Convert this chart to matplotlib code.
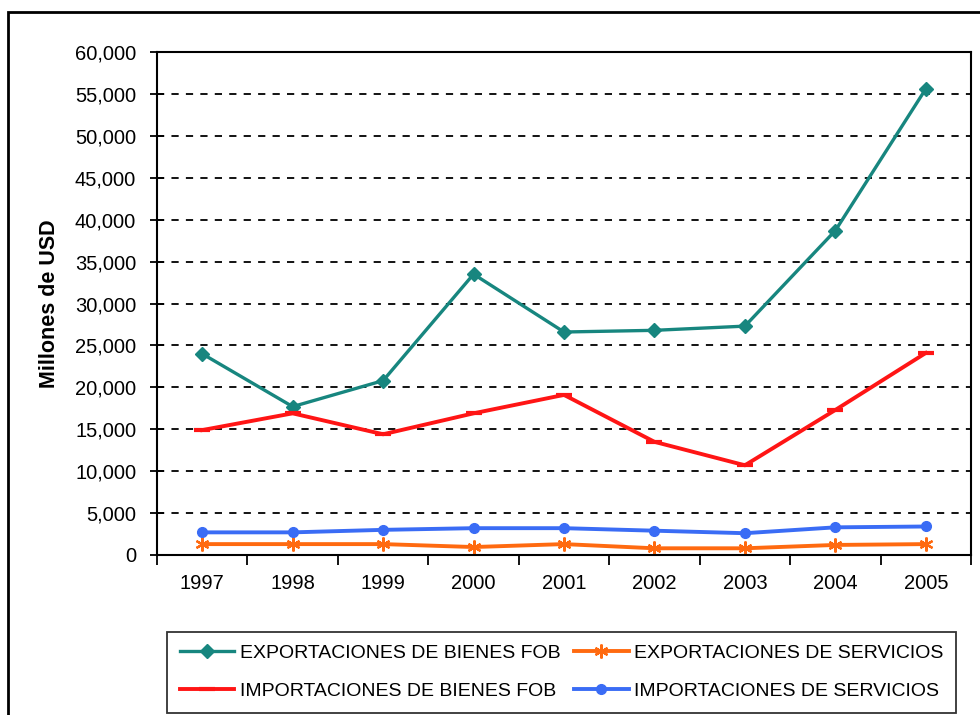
import numpy as np
import matplotlib
matplotlib.use('Agg')
import matplotlib.pyplot as plt
from matplotlib.patches import Rectangle
from matplotlib.ticker import FuncFormatter, FixedLocator

plt.rcParams['font.family'] = ['Liberation Sans', 'DejaVu Sans']

# Datos (millones de USD)
years = ['1997', '1998', '1999', '2000', '2001', '2002', '2003', '2004', '2005']
exp_bienes = [24000, 17700, 20800, 33500, 26600, 26800, 27300, 38700, 55600]
imp_bienes = [14900, 16900, 14400, 16900, 19100, 13500, 10700, 17300, 24100]
exp_serv = [1300, 1300, 1300, 950, 1300, 800, 800, 1200, 1300]
imp_serv = [2700, 2700, 3000, 3200, 3200, 2900, 2600, 3300, 3400]

fig = plt.figure(figsize=(9.8, 7.15), dpi=100)
# marco exterior
fig.patches.append(Rectangle((8/980, -0.1), 1.2, 1 - 12/715 + 0.1, transform=fig.transFigure,
                             fill=False, edgecolor='black', linewidth=2))

ax = fig.add_axes([157/980, 1 - 555/715, 814/980, 503/715])
x = np.arange(len(years))

ax.plot(x, exp_bienes, color='#17867f', lw=2.4, marker='D', ms=7, label='EXPORTACIONES DE BIENES FOB')
ax.plot(x, exp_serv, color='#ff6a10', lw=2.8, marker=(6, 2, 0), ms=10, mew=1.6, label='EXPORTACIONES DE SERVICIOS')
ax.plot(x, imp_bienes, color='#ff1515', lw=2.8, marker='_', ms=12, mew=3, label='IMPORTACIONES DE BIENES FOB')
ax.plot(x, imp_serv, color='#3a6cf5', lw=2.8, marker='o', ms=7, label='IMPORTACIONES DE SERVICIOS')

ax.set_xlim(-0.5, len(years) - 0.5)
ax.set_ylim(0, 60000)
ax.set_yticks(np.arange(0, 60001, 5000))
ax.yaxis.set_major_formatter(FuncFormatter(lambda v, p: f'{int(v):,}'))
ax.set_xticks(x)
ax.set_xticklabels(years)
ax.xaxis.set_minor_locator(FixedLocator(np.arange(-0.5, len(years), 1)))
ax.tick_params(axis='x', which='major', length=0, pad=14, labelsize=14.5)
ax.tick_params(axis='x', which='minor', length=7, direction='out', width=1.3)
ax.tick_params(axis='y', length=10, direction='inout', width=1.3, labelsize=14.5, pad=10)
ax.yaxis.grid(True, linestyle=(0, (4, 4)), color='black', lw=1.3)
ax.set_axisbelow(True)
for s in ax.spines.values():
    s.set_linewidth(1.5)
    s.set_zorder(5)
ax.set_ylabel('Millones de USD', fontsize=15.5, fontweight='bold')
ax.yaxis.set_label_coords(-0.119, 0.5)

handles, labels = ax.get_legend_handles_labels()
order = [0, 2, 1, 3]
leg = fig.legend([handles[i] for i in order], [labels[i] for i in order], ncol=2,
                 loc='upper left', bbox_to_anchor=(167/980, 1 - 632/715),
                 fontsize=14, frameon=True, fancybox=False,
                 edgecolor='black', handlelength=2.8, handletextpad=0.3,
                 columnspacing=0.7, borderpad=0.65, borderaxespad=0, labelspacing=1.05)
leg.get_frame().set_linewidth(1.3)

fig.savefig('out.png', dpi=100)
